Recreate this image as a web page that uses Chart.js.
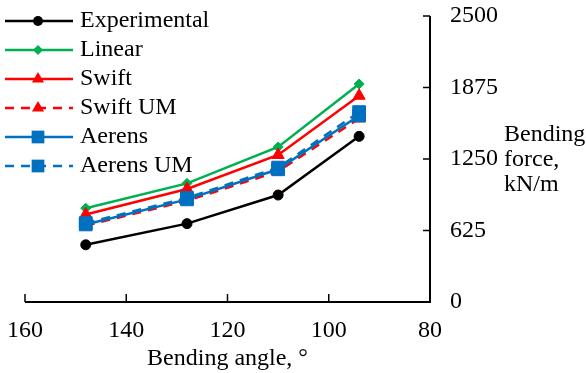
<!DOCTYPE html>
<html><head><meta charset="utf-8">
<script src="https://cdn.jsdelivr.net/npm/chart.js@4"></script>
<style>html,body{margin:0;padding:0;background:#fff}#wrap{width:586px;height:373px;position:relative}</style>
</head><body><div id="wrap"><canvas id="c" width="586" height="373"></canvas></div>
<script>
const angles = [148, 128, 110, 94];
const experimental = [500, 685, 935, 1448];
const linear = [820, 1037, 1355, 1906];
const swift = [765, 988, 1285, 1803];
const swiftUM = [668, 885, 1142, 1605];
const aerens = [678, 897, 1160, 1630];
const aerensUM = [690, 910, 1175, 1660];
const xTicks = [160, 140, 120, 100, 80];
const yTicks = [0, 625, 1250, 1875, 2500];
const xTitle = 'Bending angle, °';
const yTitle = ['Bending', 'force,', 'kN/m'];
const seriesNames = ['Experimental', 'Linear', 'Swift', 'Swift UM', 'Aerens', 'Aerens UM'];

const FONT = '"Liberation Serif", "Times New Roman", serif';
const pts = arr => angles.map((a, i) => ({x: a, y: arr[i]}));
function ds(label, data, color, style, radius, dash, order) {
  return {label, data: pts(data), borderColor: color, backgroundColor: color,
    pointBackgroundColor: color, pointBorderColor: color, pointStyle: style,
    pointRadius: radius, pointHoverRadius: radius, pointBorderWidth: 1,
    borderWidth: 2.5, borderDash: dash, tension: 0, fill: false, order};
}
const datasets = [
  ds(seriesNames[0], experimental, '#000000', 'circle', 5, [], 5),
  ds(seriesNames[1], linear, '#00B050', 'rectRot', 5, [], 4),
  ds(seriesNames[2], swift, '#FF0000', 'triangle', 7, [], 3),
  ds(seriesNames[3], swiftUM, '#FF0000', 'triangle', 7, [9, 7], 2),
  ds(seriesNames[4], aerens, '#0070C0', 'rect', 9, [], 1),
  ds(seriesNames[5], aerensUM, '#0070C0', 'rect', 9, [9, 7], 0)
];

function drawMarker(ctx, style, r, x, y) {
  ctx.beginPath();
  if (style === 'circle') { ctx.arc(x, y, r, 0, Math.PI * 2); }
  else if (style === 'rect') { const s = r * Math.SQRT1_2; ctx.rect(x - s, y - s, 2 * s, 2 * s); }
  else if (style === 'rectRot') { ctx.moveTo(x, y - r); ctx.lineTo(x + r, y); ctx.lineTo(x, y + r); ctx.lineTo(x - r, y); ctx.closePath(); }
  else if (style === 'triangle') { ctx.moveTo(x, y - r); ctx.lineTo(x + r * 0.866, y + r * 0.5); ctx.lineTo(x - r * 0.866, y + r * 0.5); ctx.closePath(); }
  ctx.fill();
}

const customDraw = {
  id: 'customDraw',
  afterDraw(chart) {
    const ctx = chart.ctx;
    const xs = chart.scales.x, ys = chart.scales.y;
    ctx.save();
    ctx.strokeStyle = '#000'; ctx.lineWidth = 2; ctx.setLineDash([]);
    ctx.beginPath();
    ctx.moveTo(xs.getPixelForValue(160), ys.getPixelForValue(0));
    ctx.lineTo(xs.getPixelForValue(80) + 1, ys.getPixelForValue(0));
    ctx.moveTo(xs.getPixelForValue(80), ys.getPixelForValue(0));
    ctx.lineTo(xs.getPixelForValue(80), ys.getPixelForValue(2500));
    ctx.stroke();
    ctx.lineWidth = 1.5;
    ctx.beginPath();
    xTicks.forEach(v => { const px = xs.getPixelForValue(v); const py = ys.getPixelForValue(0); ctx.moveTo(px, py); ctx.lineTo(px, py - 8); });
    yTicks.forEach(v => { const px = xs.getPixelForValue(80); const py = ys.getPixelForValue(v); ctx.moveTo(px, py); ctx.lineTo(px - 7, py); });
    ctx.stroke();
    ctx.fillStyle = '#000';
    ctx.font = '24px ' + FONT;
    ctx.textAlign = 'left'; ctx.textBaseline = 'middle';
    yTitle.forEach((t, i) => ctx.fillText(t, 504, 135 + i * 25));
    chart.data.datasets.forEach((d, i) => {
      const y = 21 + i * 29;
      ctx.strokeStyle = d.borderColor; ctx.lineWidth = 2.5;
      ctx.setLineDash(d.borderDash);
      ctx.beginPath(); ctx.moveTo(5, y); ctx.lineTo(73, y); ctx.stroke();
      ctx.setLineDash([]);
      ctx.fillStyle = d.pointBackgroundColor;
      drawMarker(ctx, d.pointStyle, d.pointRadius, 38, y);
      ctx.fillStyle = '#000';
      ctx.fillText(d.label, 80, y);
    });
    ctx.restore();
  }
};

new Chart(document.getElementById('c'), {
  type: 'line',
  data: {datasets},
  options: {
    responsive: false, animation: false, devicePixelRatio: 1,
    layout: {padding: 0},
    plugins: {legend: {display: false}, tooltip: {enabled: false}},
    scales: {
      x: {type: 'linear', reverse: true, min: 80, max: 160,
        afterBuildTicks: s => { s.ticks = xTicks.map(v => ({value: v})); },
        afterFit: s => { s.height = 71; s.paddingLeft = 25; s.paddingRight = 0; },
        border: {display: false},
        grid: {display: false, drawTicks: false},
        ticks: {color: '#000', font: {family: FONT, size: 24}, padding: 14, maxRotation: 0, callback: v => String(v)},
        title: {display: true, text: xTitle, color: '#000', font: {family: FONT, size: 24}, padding: {top: 0, bottom: 0}}
      },
      y: {type: 'linear', position: 'right', min: 0, max: 2500,
        afterBuildTicks: s => { s.ticks = yTicks.map(v => ({value: v})); },
        afterFit: s => { s.width = 156; s.paddingTop = 16; s.paddingBottom = 0; },
        border: {display: false},
        grid: {display: false, drawTicks: false},
        ticks: {color: '#000', font: {family: FONT, size: 24}, padding: 20, callback: v => String(v)}
      }
    }
  },
  plugins: [customDraw]
});
</script></body></html>
